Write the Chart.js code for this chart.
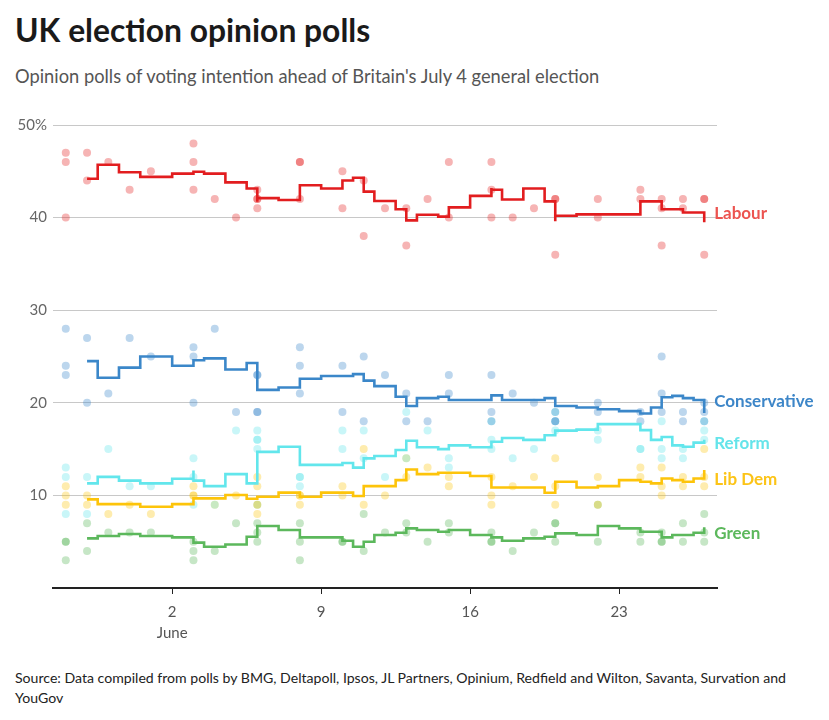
<!DOCTYPE html>
<html>
<head>
<meta charset="utf-8">
<script src="https://cdn.jsdelivr.net/npm/chart.js@4.4.1/dist/chart.umd.min.js"></script>
<style>
  html, body { margin:0; padding:0; background:#fff; width:829px; height:720px; overflow:hidden; font-family: Lato, "Open Sans", sans-serif; }
  #title { position:absolute; left:15px; top:14px; font-size:31.8px; line-height:32px; font-weight:700; color:#1a1a1a; white-space:nowrap; }
  #subtitle { position:absolute; left:15px; top:67px; font-size:18.3px; line-height:18px; color:#555; white-space:nowrap; }
  #wrap { position:absolute; left:0; top:100px; width:829px; height:548px; }
  #source { position:absolute; left:15px; top:668px; font-size:14.1px; line-height:20px; color:#222; white-space:nowrap; }
</style>
</head>
<body>
<div id="title">UK election opinion polls</div>
<div id="subtitle">Opinion polls of voting intention ahead of Britain's July 4 general election</div>
<div id="wrap"><canvas id="c" width="829" height="548"></canvas></div>
<div id="source">Source: Data compiled from polls by BMG, Deltapoll, Ipsos, JL Partners, Opinium, Redfield and Wilton, Savanta, Survation and<br>YouGov</div>
<script>
// ---- x positions are days relative to June (June 2 = 2, May 31 = 0, May 28 = -3) ----
const tickDays   = [2, 9, 16, 23];
const tickLabels = [['2', 'June'], '9', '16', '23'];

// ---- individual polls (one entry per poll) ----
const pollDays      = [-3,-3,-3, -2,-2, -1, 0, 1, 3,3,3, 4, 5, 6,6,6,6, 8,8,8, 10,10, 11,11, 12, 13,13, 14, 15,15, 17,17,17, 18, 19, 20,20,20, 22,22, 24,24, 25,25,25, 26,26, 27,27,27];
const labourPolls   = [47,46,40, 47,44, 46, 43, 45, 48,46,43, 42, 40, 43,42,42,41, 46,46,42, 45,41, 44,38, 41, 41,37, 42, 46,40, 46,43,40, 40, 41, 42,42,36, 42,40, 43,42, 42,41,37, 42,41, 42,42,36];
const conPolls      = [28,24,23, 27,20, 21, 27, 25, 26,25,20, 28, 19, 23,23,19,19, 26,24,21, 24,19, 25,18, 23, 21,18, 18, 23,21, 23,19,18, 21, 20, 19,18,18, 20,19, 19,18, 25,21,19, 19,18, 20,19,18];
const reformPolls   = [13,12,8,  12,8,  15, 11, 11, 14,12,9,  9,  17, 17,16,16,15, 12,12,11, 17,15, 17,14, 12, 19,14, 17, 14,13, 18,16,15, 14, 15, 19,18,17, 17,16, 15,15, 18,15,14, 15,14, 18,17,16];
const libDemPolls   = [11,10,9,  10,9,  8,  9,  8,  11,10,10, 9,  10, 12,11,9,8,   10,10,9,  11,10, 15,9,  10, 14,12, 13, 12,11, 12,10,9,  11, 12, 14,11,9,  12,9,  13,12, 13,11,10, 12,11, 15,12,11];
const greenPolls    = [5,5,3,    7,4,   6,  6,  6,  5,4,3,    4,  7,  9,7,6,5,     7,5,3,    5,5,   8,4,   6,  7,6,   5,  7,6,   6,5,5,    4,  6,  7,7,5,    9,5,   6,5,   6,5,5,    7,5,   8,6,5];

// ---- rolling averages (one entry per poll in the average series) ----
const labourTrendDays = [-2,-1,0,1,3,3,4,5,6,6,6,8,8,10,10,11,11,12,13,13,14,15,15,17,17,17,18,19,20,20,20,22,24,24,25,25,26,26,27,27];
const labourTrend     = [44.2,45.7,44.9,44.4,44.75,44.95,44.75,43.8,43.15,41.7,42.1,41.9,43.5,43.15,44.0,44.3,42.8,41.8,40.9,39.7,40.3,40.1,41.1,42.35,43.2,43.0,41.95,43.15,41.75,39.6,40.2,40.35,40.35,41.75,41.75,40.9,40.9,40.55,40.55,39.5];

const conTrendDays = [-2,-1,0,1,3,3,4,5,6,6,8,8,10,11,11,12,13,13,14,15,15,17,17,18,19,20,20,22,22,24,24,25,25,26,26,27,27];
const conTrend     = [24.5,22.7,23.8,25.0,24.0,24.6,24.8,23.6,24.3,21.4,21.65,22.6,22.9,23.1,22.4,21.8,20.65,19.65,20.5,20.65,20.3,20.3,20.8,20.3,20.3,20.5,19.65,19.5,19.3,19.1,18.85,19.5,20.6,20.75,20.5,20.3,18.9];

const reformTrendDays = [-2,-1,0,1,3,3,3,4,5,6,6,8,8,10,10,11,11,12,13,13,14,15,15,17,17,18,19,20,20,22,22,24,24,25,25,26,26,27,27];
const reformTrend     = [11.3,12.0,11.6,11.3,11.8,12.7,11.6,11.0,12.3,11.3,14.7,15.25,13.3,13.3,13.5,13.0,14.0,14.25,14.9,15.9,15.2,15.0,15.4,15.2,15.8,16.2,16.0,16.5,17.0,17.1,17.7,17.7,17.05,16.0,16.3,15.4,15.25,15.7,16.0];

const libDemTrendDays = [-2,-1,0,1,3,3,4,5,6,6,8,8,10,11,11,12,13,13,14,15,17,17,18,19,20,20,22,22,24,24,25,25,26,26,27,27];
const libDemTrend     = [9.57,9.06,9.06,8.78,9.06,9.68,9.68,10.04,9.64,9.86,10.3,9.86,10.3,9.93,11.0,11.0,11.65,12.8,12.3,12.45,12.1,10.86,10.86,10.86,10.29,11.47,10.86,11.0,11.65,11.47,11.3,11.83,11.65,11.47,11.83,12.73];

const greenTrendDays = [-2,-1,0,1,3,3,4,5,6,6,8,8,10,10,11,11,12,13,13,14,15,15,17,17,18,19,20,20,22,22,24,24,25,25,26,26,27,27];
const greenTrend     = [5.36,5.61,5.83,5.61,5.47,4.9,4.46,4.7,5.54,6.69,6.26,5.47,5.47,5.1,4.46,5.0,5.72,5.97,6.44,6.26,6.08,6.26,5.72,5.47,5.1,5.36,5.54,5.9,5.72,6.69,6.44,6.08,6.08,5.47,5.72,5.72,5.97,6.55];

const partyNames = ['Labour', 'Conservative', 'Reform', 'Lib Dem', 'Green'];

// ---- styling ----
const lineColors  = ['#e21d1f', '#3b87c9', '#62e6ec', '#fdc40a', '#5cb85c'];
const labelColors = ['#ec5450', '#3d86c8', '#64e4ea', '#fcc417', '#5cb85c'];
const dotColors   = ['rgba(227,26,28,0.33)', 'rgba(58,135,201,0.34)', 'rgba(90,228,234,0.33)', 'rgba(253,196,10,0.33)', 'rgba(92,184,92,0.35)'];

const pollSeries  = [labourPolls, conPolls, reformPolls, libDemPolls, greenPolls];
const trendSeries = [
  [labourTrendDays, labourTrend],
  [conTrendDays, conTrend],
  [reformTrendDays, reformTrend],
  [libDemTrendDays, libDemTrend],
  [greenTrendDays, greenTrend]
];

const datasets = [];
trendSeries.forEach(([days, vals], i) => {
  datasets.push({
    type: 'line',
    label: partyNames[i] + ' average',
    data: days.map((d, k) => ({ x: d, y: vals[k] })),
    borderColor: lineColors[i],
    borderWidth: 2.6,
    stepped: 'middle',
    pointRadius: 0,
    fill: false,
    order: 1
  });
});
pollSeries.forEach((vals, i) => {
  datasets.push({
    type: 'scatter',
    label: partyNames[i] + ' polls',
    data: pollDays.map((d, k) => ({ x: d, y: vals[k] })),
    backgroundColor: dotColors[i],
    pointBackgroundColor: dotColors[i],
    borderWidth: 0,
    pointBorderWidth: 0,
    pointRadius: 4,
    order: 2 + i
  });
});

const endLabels = {
  id: 'endLabels',
  afterDatasetsDraw(chart) {
    const { ctx, scales: { x, y } } = chart;
    ctx.save();
    ctx.font = 'bold 17px Lato, sans-serif';
    ctx.textBaseline = 'middle';
    ctx.textAlign = 'left';
    trendSeries.forEach(([days, vals], i) => {
      const n = vals.length;
      ctx.fillStyle = labelColors[i];
      ctx.fillText(partyNames[i], x.getPixelForValue(days[n - 1]) + 10, y.getPixelForValue(vals[n - 2]) + 1);
    });
    ctx.restore();
  }
};

new Chart(document.getElementById('c'), {
  data: { datasets },
  plugins: [endLabels],
  options: {
    responsive: false,
    animation: false,
    devicePixelRatio: 1,
    layout: { padding: { top: 25, right: 112, left: 0, bottom: 0 } },
    plugins: { legend: { display: false }, tooltip: { enabled: false } },
    events: [],
    scales: {
      x: {
        type: 'linear',
        min: -3.6,
        max: 27.6,
        afterBuildTicks: (s) => { s.ticks = tickDays.map(v => ({ value: v })); },
        afterFit: (s) => { s.height = 60; },
        ticks: {
          autoSkip: false,
          maxRotation: 0,
          callback: (v, idx) => tickLabels[idx],
          color: '#555',
          font: { family: 'Lato', size: 15, lineHeight: 1.38 },
          padding: 8
        },
        grid: { drawOnChartArea: false, drawTicks: true, tickLength: 6, tickColor: '#222', tickWidth: 1 },
        border: { display: true, color: '#222', width: 2 }
      },
      y: {
        min: 0,
        max: 50,
        afterFit: (s) => { s.width = 53; },
        ticks: {
          stepSize: 10,
          callback: (v) => v === 0 ? '' : (v === 50 ? '50%' : String(v)),
          color: '#666',
          font: { family: 'Lato', size: 15 },
          padding: 6
        },
        grid: {
          drawTicks: false,
          tickLength: 0,
          lineWidth: 1,
          color: (c) => c.tick && c.tick.value === 0 ? 'rgba(0,0,0,0)' : '#c8c8c8'
        },
        border: { display: false }
      }
    }
  }
});
</script>
</body>
</html>
